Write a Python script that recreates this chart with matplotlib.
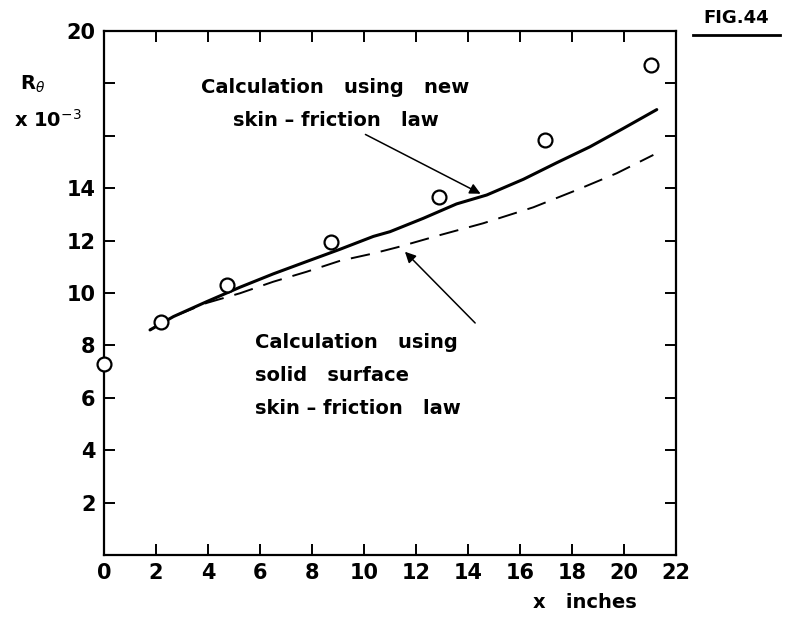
import matplotlib
matplotlib.use("Agg")
import matplotlib.pyplot as plt

# Measured R_theta (x 10^-3) against distance x (inches)
x_meas = [0.0, 2.2, 4.73, 8.73, 12.9, 16.96, 21.04]
r_meas = [7.3, 8.9, 10.3, 11.95, 13.68, 15.84, 18.7]

# Calculation using the new skin-friction law
x_new = [1.77, 2.67, 3.95, 5.23, 6.51, 7.79, 9.08, 10.36, 11.0, 12.28, 13.56,
         14.72, 16.13, 17.41, 18.69, 19.97, 21.26]
r_new = [8.59, 9.10, 9.67, 10.22, 10.73, 11.2, 11.67, 12.16, 12.34, 12.85, 13.40,
         13.74, 14.34, 14.97, 15.58, 16.28, 17.0]

# Calculation using the solid-surface skin-friction law
x_solid = [1.77, 2.67, 3.95, 5.23, 6.51, 7.79, 9.08, 10.36, 11.3, 12.92, 14.58,
           16.51, 18.18, 19.72, 21.13]
r_solid = [8.59, 9.10, 9.62, 9.99, 10.43, 10.81, 11.23, 11.51, 11.75, 12.21, 12.66,
           13.27, 13.93, 14.57, 15.27]

x_ticks = list(range(0, 23, 2))
x_ticklabels = [str(v) for v in x_ticks]
y_ticks = list(range(2, 21, 2))
y_ticklabels = ["2", "4", "6", "8", "10", "12", "14", "", "", "20"]

plt.rcParams["font.family"] = ["DejaVu Sans"]
plt.rcParams["lines.scale_dashes"] = False

fig = plt.figure(figsize=(7.97, 6.19), dpi=100)
ax = fig.add_axes([104 / 797, 1 - 555 / 619, (676 - 104) / 797, (555 - 31) / 619])

ax.set_xlim(0, 22)
ax.set_ylim(0, 20)

for s in ax.spines.values():
    s.set_linewidth(1.6)

ax.set_xticks(x_ticks)
ax.set_xticklabels(x_ticklabels)
ax.set_yticks(y_ticks)
ax.set_yticklabels(y_ticklabels)
ax.tick_params(direction="in", length=8, width=1.4, top=True, right=True,
               labelsize=15, pad=6)
for lab in ax.get_xticklabels() + ax.get_yticklabels():
    lab.set_fontweight("bold")

ax.plot(x_new, r_new, color="black", lw=2.2, solid_capstyle="round",
        solid_joinstyle="round", zorder=3)
ax.plot(x_solid, r_solid, color="black", lw=1.4, dashes=(14, 8), zorder=3)
ax.plot(x_meas, r_meas, linestyle="none", marker="o", markersize=10,
        markerfacecolor="white", markeredgecolor="black", markeredgewidth=1.6,
        clip_on=False, zorder=4)

txt = dict(fontsize=14, fontweight="bold", color="black")
ax.text(8.9, 17.2, "Calculation   using   new\nskin \u2013 friction   law",
        ha="center", va="center", linespacing=1.95, **txt)
ax.text(5.8, 6.85, "Calculation   using\nsolid   surface\nskin \u2013 friction   law",
        ha="left", va="center", linespacing=1.95, **txt)

arrow = dict(arrowstyle="-|>", color="black", lw=1.1, mutation_scale=16)
ax.annotate("", xy=(14.58, 13.74), xytext=(9.96, 16.1), arrowprops=arrow)
ax.annotate("", xy=(11.5, 11.65), xytext=(14.35, 8.78), arrowprops=arrow)

fig.text(33 / 797, 1 - 84 / 619, r"R$_\theta$", fontsize=14, fontweight="bold",
         ha="center", va="center")
fig.text(48 / 797, 1 - 120 / 619, r"x 10$^{-3}$", fontsize=14, fontweight="bold",
         ha="center", va="center")
fig.text(585 / 797, 1 - 603 / 619, "x   inches", fontsize=14, fontweight="bold",
         ha="center", va="center")
fig.text(736 / 797, 1 - 18 / 619, "FIG.44", fontsize=13, fontweight="bold",
         ha="center", va="center")
fig.add_artist(plt.Line2D([693 / 797, 780 / 797], [1 - 35 / 619, 1 - 35 / 619],
                          color="black", lw=2.0))

fig.savefig("out.png", dpi=100, facecolor="white")
